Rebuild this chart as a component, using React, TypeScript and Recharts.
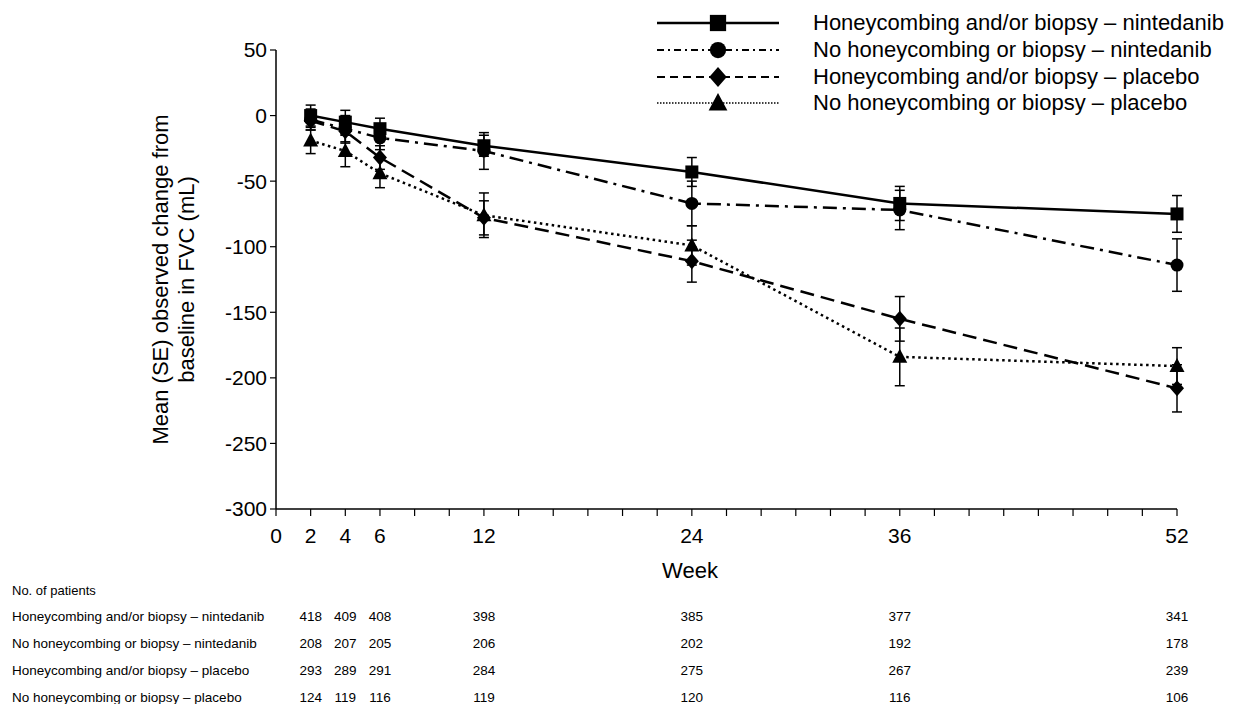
import { ErrorBar, Line, LineChart, XAxis, YAxis } from 'recharts'

const weeks = [2, 4, 6, 12, 24, 36, 52]
const weekTicks = [0, 2, 4, 6, 8, 10, 12, 14, 16, 18, 20, 22, 24, 26, 28, 30, 32, 34, 36, 38, 40, 42, 44, 46, 48, 50, 52]
const labelledWeeks = [0, 2, 4, 6, 12, 24, 36, 52]
const yTicks = [50, 0, -50, -100, -150, -200, -250, -300]

const seriesNames = [
  'Honeycombing and/or biopsy – nintedanib',
  'No honeycombing or biopsy – nintedanib',
  'Honeycombing and/or biopsy – placebo',
  'No honeycombing or biopsy – placebo',
]

const hcNintedanib = [0, -5, -10, -23, -43, -67, -75]
const hcNintedanibSe = [8, 9, 8, 8, 11, 13, 14]
const noHcNintedanib = [-3, -10, -17, -27, -67, -72, -114]
const noHcNintedanibSe = [8, 10, 9, 14, 17, 15, 20]
const hcPlacebo = [-4, -12, -32, -78, -111, -155, -208]
const hcPlaceboSe = [7, 9, 9, 13, 16, 17, 18]
const noHcPlacebo = [-19, -27, -44, -76, -99, -184, -191]
const noHcPlaceboSe = [10, 12, 11, 17, 15, 22, 14]

const nHcNintedanib = [418, 409, 408, 398, 385, 377, 341]
const nNoHcNintedanib = [208, 207, 205, 206, 202, 192, 178]
const nHcPlacebo = [293, 289, 291, 284, 275, 267, 239]
const nNoHcPlacebo = [124, 119, 116, 119, 120, 116, 106]

const data = weeks.map((week, i) => ({
  week,
  a: hcNintedanib[i],
  aSe: hcNintedanibSe[i],
  b: noHcNintedanib[i],
  bSe: noHcNintedanibSe[i],
  c: hcPlacebo[i],
  cSe: hcPlaceboSe[i],
  d: noHcPlacebo[i],
  dSe: noHcPlaceboSe[i],
}))

const series = [
  { key: 'a', se: 'aSe', name: seriesNames[0], dash: undefined, legendDash: undefined, shape: 'square', legendWidth: 2.5 },
  { key: 'b', se: 'bSe', name: seriesNames[1], dash: '14 6 3 6', legendDash: '7 4 2 4', shape: 'circle', legendWidth: 2 },
  { key: 'c', se: 'cSe', name: seriesNames[2], dash: '14 7', legendDash: '8 5', shape: 'diamond', legendWidth: 2 },
  { key: 'd', se: 'dSe', name: seriesNames[3], dash: '2.5 3.5', legendDash: '1.5 1.5', shape: 'triangle', legendWidth: 1.5 },
]

const tableRows = [
  { name: seriesNames[0], counts: nHcNintedanib },
  { name: seriesNames[1], counts: nNoHcNintedanib },
  { name: seriesNames[2], counts: nHcPlacebo },
  { name: seriesNames[3], counts: nNoHcPlacebo },
]

const FONT = '"Liberation Sans", Arial, sans-serif'

function Marker({ cx, cy, shape, scale = 1 }: any) {
  if (cx == null || cy == null) return <g />
  const s = scale
  if (shape === 'square') {
    return <rect x={cx - 6.5 * s} y={cy - 6.5 * s} width={13 * s} height={13 * s} fill="#000" />
  }
  if (shape === 'circle') {
    return <circle cx={cx} cy={cy} r={6.5 * s} fill="#000" />
  }
  if (shape === 'diamond') {
    return (
      <polygon
        points={`${cx},${cy - 8 * s} ${cx + 7 * s},${cy} ${cx},${cy + 8 * s} ${cx - 7 * s},${cy}`}
        fill="#000"
      />
    )
  }
  return (
    <polygon
      points={`${cx},${cy - 8 * s} ${cx + 7.5 * s},${cy + 6 * s} ${cx - 7.5 * s},${cy + 6 * s}`}
      fill="#000"
    />
  )
}

function WeekTick({ x, y, payload }: any) {
  if (!labelledWeeks.includes(payload.value)) return <g />
  return (
    <text x={x} y={y} dy={15} textAnchor="middle" fontSize={21} fontFamily={FONT} fill="#000">
      {payload.value}
    </text>
  )
}

function WeekLabel({ viewBox }: any) {
  const vb = viewBox ?? { x: 276, y: 509, width: 901, height: 94 }
  return (
    <text x={vb.x + 414} y={vb.y + 69} textAnchor="middle" fontSize={22} fontFamily={FONT} fill="#000">
      Week
    </text>
  )
}

function YLabel({ viewBox }: any) {
  const vb = viewBox ?? { x: 0, y: 50, width: 276, height: 459 }
  const cy = vb.y + vb.height / 2
  return (
    <g fontSize={22} fontFamily={FONT} fill="#000">
      <text x={160} y={cy} dy="0.355em" textAnchor="middle" transform={`rotate(-90, 160, ${cy})`}>
        Mean (SE) observed change from
      </text>
      <text x={186} y={cy} dy="0.355em" textAnchor="middle" transform={`rotate(-90, 186, ${cy})`}>
        baseline in FVC (mL)
      </text>
    </g>
  )
}

function makeCountTick(counts: number[]) {
  return function CountTick({ x, y, payload }: any) {
    const i = weeks.indexOf(payload.value)
    if (i < 0) return <g />
    return (
      <text x={x} y={y + 13} dy="0.355em" textAnchor="middle" fontSize={13.5} fontFamily={FONT} fill="#000">
        {counts[i]}
      </text>
    )
  }
}

function makeRowLabel(name: string, withHeader: boolean) {
  return function RowLabel({ viewBox }: any) {
    const y = viewBox ? viewBox.y : 603
    return (
      <g fontSize={13.5} fontFamily={FONT} fill="#000">
        {withHeader && (
          <text x={12} y={y - 13} dy="0.355em" fontSize={13}>
            No. of patients
          </text>
        )}
        <text x={12} y={y + 13} dy="0.355em">
          {name}
        </text>
      </g>
    )
  }
}

function LegendIcon({ dash, shape, width }: any) {
  return (
    <svg width={122} height={24} style={{ display: 'block' }}>
      <line x1={0} x2={122} y1={12} y2={12} stroke="#000" strokeWidth={width} strokeDasharray={dash} />
      <Marker cx={61} cy={12} shape={shape} scale={1.25} />
    </svg>
  )
}

export default function App() {
  return (
    <div
      style={{
        position: 'absolute',
        left: 0,
        top: 0,
        width: 1241,
        height: 704,
        background: '#fff',
        fontFamily: FONT,
        overflow: 'hidden',
      }}
    >
      <LineChart width={1241} height={704} data={data} margin={{ top: 50, right: 64, left: 0, bottom: 0 }}>
        <XAxis
          dataKey="week"
          type="number"
          domain={[0, 52]}
          ticks={weekTicks}
          interval={0}
          tick={<WeekTick />}
          tickSize={7}
          tickMargin={12}
          height={94}
          axisLine={{ stroke: '#000', strokeWidth: 1.5 }}
          tickLine={{ stroke: '#000', strokeWidth: 1.2 }}
          label={<WeekLabel />}
        />
        {tableRows.map((row, r) => (
          <XAxis
            key={row.name}
            xAxisId={`row${r}`}
            dataKey="week"
            type="number"
            domain={[0, 52]}
            allowDataOverflow
            ticks={weeks}
            interval={0}
            height={r === tableRows.length - 1 ? 20 : 27}
            axisLine={false}
            tickLine={false}
            tickSize={0}
            tickMargin={0}
            tick={makeCountTick(row.counts)}
            label={makeRowLabel(row.name, r === 0)}
          />
        ))}
        <YAxis
          type="number"
          domain={[-300, 50]}
          ticks={yTicks}
          interval={0}
          width={276}
          tickSize={6}
          tickMargin={3}
          tick={{ fontSize: 21, fill: '#000', fontFamily: FONT }}
          axisLine={{ stroke: '#000', strokeWidth: 1.5 }}
          tickLine={{ stroke: '#000', strokeWidth: 1.2 }}
          label={<YLabel />}
        />
        {tableRows.map((row, r) => (
          <Line
            key={`hidden-${r}`}
            xAxisId={`row${r}`}
            dataKey="a"
            stroke="none"
            dot={false}
            activeDot={false}
            legendType="none"
            isAnimationActive={false}
          />
        ))}
        {series.map((s) => (
          <Line
            key={s.key}
            dataKey={s.key}
            name={s.name}
            type="linear"
            stroke="#000"
            strokeWidth={2.5}
            strokeDasharray={s.dash}
            dot={(p: any) => <Marker key={`${s.key}-${p.index}`} cx={p.cx} cy={p.cy} shape={s.shape} />}
            activeDot={false}
            isAnimationActive={false}
          >
            <ErrorBar
              dataKey={s.se}
              direction="y"
              width={5}
              stroke="#000"
              strokeWidth={1.5}
              isAnimationActive={false}
            />
          </Line>
        ))}
      </LineChart>
      <div style={{ position: 'absolute', left: 657, top: 10 }}>
        {series.map((s) => (
          <div key={s.key} style={{ display: 'flex', alignItems: 'center', height: 26.7 }}>
            <LegendIcon dash={s.legendDash} shape={s.shape} width={s.legendWidth} />
            <span style={{ marginLeft: 34, fontSize: 22, lineHeight: '24px', whiteSpace: 'nowrap', color: '#000' }}>
              {s.name}
            </span>
          </div>
        ))}
      </div>
    </div>
  )
}
